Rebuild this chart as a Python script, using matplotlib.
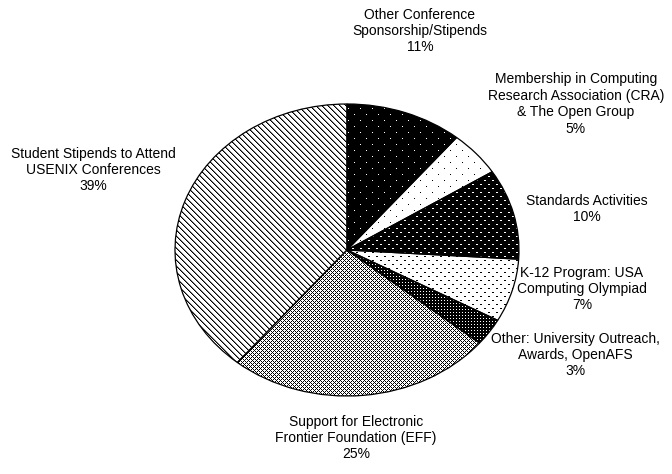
import numpy as np
import matplotlib.pyplot as plt

plt.rcParams['font.family'] = ['Liberation Sans', 'DejaVu Sans']

# ---------------- data ----------------
labels = [
    "Other Conference\nSponsorship/Stipends",
    "Membership in Computing\nResearch Association (CRA)\n& The Open Group",
    "Standards Activities",
    "K-12 Program: USA\nComputing Olympiad",
    "Other: University Outreach,\nAwards, OpenAFS",
    "Support for Electronic\nFrontier Foundation (EFF)",
    "Student Stipends to Attend\nUSENIX Conferences",
]
shares = [11, 5, 10, 7, 3, 25, 39]

# label centres in pixels (layout only)
label_pos = [(420, 31), (576, 104), (587, 209), (582, 289),
             (575, 355), (356, 438), (93, 170)]

W, H = 672, 474
fig = plt.figure(figsize=(W / 100, H / 100), dpi=100)

# full-figure axes in pixel units, used for the fill patterns and the labels
bg = fig.add_axes([0, 0, 1, 1])
bg.set_zorder(1)

# the pie is stretched into an ellipse, like the reference
cx, cy, rx, ry = 347, 250, 172, 146
ax = fig.add_axes([(cx - rx) / W, 1 - (cy + ry) / H, 2 * rx / W, 2 * ry / H])
ax.set_zorder(2)
wedges, _ = ax.pie(shares, startangle=90, counterclock=False, radius=1,
                   wedgeprops=dict(facecolor='none', edgecolor='black', linewidth=0.9))
ax.set_aspect('auto')
ax.set_xlim(-1, 1)
ax.set_ylim(-1, 1)
ax.set_frame_on(False)
for w in wedges:
    w.set_clip_on(False)

# ---------------- fill patterns (grey level per pixel, 0 = black) ----------------
ii, jj = np.mgrid[0:H, 0:W]
sparse = ((ii % 12 == 0) & (jj % 12 == 0)) | ((ii % 12 == 6) & (jj % 12 == 6))
dense = ((ii % 8 == 0) & (jj % 8 < 2)) | ((ii % 8 == 4) & ((jj + 4) % 8 < 2))
weave = ((ii + jj) % 4 == 0) | ((ii - jj) % 4 == 0)
diag = (jj - ii) % 6
patterns = [
    np.where(sparse, 1.0, 0.0),                         # black, white dots
    np.where(sparse, 0.0, 1.0),                         # white, black dots
    np.where(dense, 1.0, 0.0),                          # black, dense white dots
    np.where(dense, 0.0, 1.0),                          # white, dense black dots
    np.where((ii % 3 == 0) & (jj % 3 == 0), 1.0, 0.0),  # nearly black
    np.where(weave, 0.0, 1.0),                          # fine cross weave
    np.select([diag == 0, diag == 1], [0.0, 0.5], 1.0), # diagonal lines
]

for w, img in zip(wedges, patterns):
    im = bg.imshow(img, cmap='gray', vmin=0, vmax=1, extent=(0, W, H, 0),
                   interpolation='none')
    im.set_clip_path(w)

for lab, share, (x, y) in zip(labels, shares, label_pos):
    bg.text(x, y, f"{lab}\n{share}%", ha='center', va='center',
            multialignment='center', fontsize=10, linespacing=1.22)

bg.set_xlim(0, W)
bg.set_ylim(H, 0)
bg.set_aspect('auto')
bg.axis('off')

fig.savefig('out.png', dpi=100)
